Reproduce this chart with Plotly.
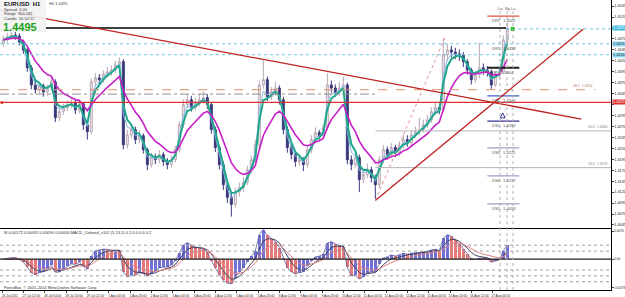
import plotly.graph_objects as go
import pandas as pd

# ---------------- data (3-hour aggregated EURUSD candles) ----------------
closes = [1.4468, 1.4475, 1.4479, 1.4477, 1.4463, 1.4445, 1.4404, 1.4365, 1.4354, 1.4363,
          1.4349, 1.4358, 1.4372, 1.4290, 1.4304, 1.4313, 1.4320, 1.4324, 1.4308, 1.4322,
          1.4274, 1.4258, 1.4372, 1.4381, 1.4377, 1.4390, 1.4395, 1.4399, 1.4411, 1.4418,
          1.4228, 1.4251, 1.4263, 1.4240, 1.4249, 1.4217, 1.4183, 1.4199, 1.4194, 1.4206,
          1.4190, 1.4183, 1.4194, 1.4217, 1.4274, 1.4320, 1.4331, 1.4313, 1.4324, 1.4331,
          1.4336, 1.4320, 1.4263, 1.4222, 1.4183, 1.4137, 1.4108, 1.4092, 1.4121, 1.4130,
          1.4142, 1.4171, 1.4194, 1.4228, 1.4365, 1.4377, 1.4338, 1.4349, 1.4358, 1.4331,
          1.4263, 1.4222, 1.4206, 1.4190, 1.4194, 1.4183, 1.4217, 1.4240, 1.4256, 1.4249,
          1.4267, 1.4365, 1.4358, 1.4347, 1.4358, 1.4365, 1.4194, 1.4183, 1.4199, 1.4149,
          1.4160, 1.4171, 1.4153, 1.4137, 1.4194, 1.4217, 1.4206, 1.4222, 1.4210, 1.4226,
          1.4240, 1.4233, 1.4251, 1.4258, 1.4263, 1.4274, 1.4285, 1.4304, 1.4313, 1.4308,
          1.4434, 1.4445, 1.4440, 1.4436, 1.4434, 1.4418, 1.4399, 1.4377, 1.4388, 1.4404,
          1.4399, 1.4395, 1.4365, 1.4386, 1.4395, 1.4468, 1.4495]
highs = [1.4478, 1.4484, 1.4490, 1.4492, 1.4483, 1.4468, 1.4450, 1.4410, 1.4376, 1.4372,
         1.4368, 1.4366, 1.4385, 1.4378, 1.4312, 1.4322, 1.4330, 1.4336, 1.4330, 1.4332,
         1.4326, 1.4282, 1.4380, 1.4392, 1.4390, 1.4398, 1.4406, 1.4410, 1.4420, 1.4428,
         1.4424, 1.4262, 1.4278, 1.4270, 1.4262, 1.4254, 1.4222, 1.4210, 1.4208, 1.4216,
         1.4212, 1.4198, 1.4204, 1.4226, 1.4282, 1.4332, 1.4344, 1.4340, 1.4336, 1.4345,
         1.4350, 1.4344, 1.4326, 1.4270, 1.4228, 1.4190, 1.4144, 1.4118, 1.4130, 1.4142,
         1.4155, 1.4180, 1.4204, 1.4240, 1.4375, 1.4422, 1.4384, 1.4360, 1.4372, 1.4364,
         1.4338, 1.4270, 1.4230, 1.4214, 1.4206, 1.4200, 1.4226, 1.4250, 1.4268, 1.4262,
         1.4276, 1.4392, 1.4375, 1.4366, 1.4372, 1.4384, 1.4370, 1.4204, 1.4210, 1.4206,
         1.4172, 1.4186, 1.4178, 1.4160, 1.4202, 1.4228, 1.4224, 1.4232, 1.4228, 1.4236,
         1.4252, 1.4250, 1.4262, 1.4270, 1.4290, 1.4286, 1.4296, 1.4314, 1.4326, 1.4322,
         1.4472, 1.4460, 1.4454, 1.4450, 1.4446, 1.4440, 1.4424, 1.4404, 1.4398, 1.4461,
         1.4414, 1.4408, 1.4400, 1.4396, 1.4406, 1.4478, 1.4508]
lows = [1.4452, 1.4462, 1.4470, 1.4468, 1.4455, 1.4436, 1.4395, 1.4355, 1.4345, 1.4346,
        1.4338, 1.4340, 1.4352, 1.4280, 1.4282, 1.4296, 1.4305, 1.4312, 1.4298, 1.4300,
        1.4262, 1.4240, 1.4252, 1.4362, 1.4366, 1.4370, 1.4382, 1.4386, 1.4392, 1.4404,
        1.4218, 1.4220, 1.4244, 1.4230, 1.4232, 1.4208, 1.4170, 1.4176, 1.4184, 1.4186,
        1.4180, 1.4172, 1.4176, 1.4188, 1.4210, 1.4266, 1.4312, 1.4304, 1.4306, 1.4316,
        1.4322, 1.4310, 1.4254, 1.4212, 1.4172, 1.4125, 1.4095, 1.4064, 1.4085, 1.4110,
        1.4120, 1.4136, 1.4162, 1.4186, 1.4222, 1.4356, 1.4328, 1.4330, 1.4340, 1.4320,
        1.4252, 1.4210, 1.4195, 1.4178, 1.4180, 1.4168, 1.4176, 1.4208, 1.4232, 1.4240,
        1.4240, 1.4260, 1.4348, 1.4338, 1.4340, 1.4350, 1.4184, 1.4170, 1.4176, 1.4120,
        1.4140, 1.4152, 1.4142, 1.4104, 1.4130, 1.4186, 1.4196, 1.4198, 1.4200, 1.4202,
        1.4218, 1.4224, 1.4226, 1.4244, 1.4250, 1.4256, 1.4266, 1.4278, 1.4296, 1.4298,
        1.4302, 1.4420, 1.4428, 1.4424, 1.4420, 1.4406, 1.4388, 1.4366, 1.4370, 1.4380,
        1.4388, 1.4384, 1.4356, 1.4360, 1.4378, 1.4390, 1.4460]
first_open = 1.4460
opens = [first_open] + closes[:-1]
hours_per_candle = 3
bar_x = [hours_per_candle * k + 1 for k in range(len(closes))]

tick_bars = list(range(0, 369, 16))
tick_text = ["26 Jul 2011", "27 Jul 12:00", "28 Jul 04:00", "28 Jul 20:00", "29 Jul 12:00",
             "1 Aug 04:00", "1 Aug 20:00", "2 Aug 12:00", "3 Aug 04:00", "3 Aug 20:00",
             "4 Aug 12:00", "5 Aug 04:00", "5 Aug 20:00", "8 Aug 12:00", "9 Aug 04:00",
             "9 Aug 20:00", "10 Aug 12:00", "11 Aug 04:00", "11 Aug 20:00", "12 Aug 12:00",
             "15 Aug 04:00", "15 Aug 20:00", "16 Aug 12:00", "17 Aug 04:00"]
price_ticks = [round(1.4045 + 0.0025 * i, 4) for i in range(21)]

# drawn objects (bar index, price)
down_trend_bars = [-1.5, 434.5]
down_trend_prices = [1.4536, 1.4287]
up_trend_bars = [280, 436]
up_trend_prices = [1.4101, 1.4493]
fib_diag_bars = [280, 332]
fib_diag_prices = [1.4101, 1.4472]
current_price = 1.4495
cyan_levels = [1.4459, 1.4434]
orange_level = 1.4354
grey_dash_level = 1.4344
red_level = 1.4325
fib_levels = [1.4260, 1.4176]
fib_labels = ["50.0  1.4260", "23.6  1.4176"]
pivot_names = ["DR2", "DR1", "DP", "DS1", "DS2", "DS3", "DS4", "DS5"]
pivot_prices = [1.4522, 1.4458, 1.4404, 1.4340, 1.4282, 1.4221, 1.4157, 1.4093]
pivot_colors = ["#e05040", "#c0c0d0", "#202020", "#4060c0", "#303090", "#a0a0c8", "#a0a0c8", "#a0a0c8"]
arrow_bar, arrow_price = 375.5, 1.4301
session_bars = [373.5, 378.75, 383.25]
session_names = ["Lo", "Ny", "Lu"]

# ---------------- indicators ----------------
s = pd.Series(closes)
ma_fast = s.ewm(span=2.2, adjust=False).mean()
ma_mid = s.ewm(span=3, adjust=False).mean()
ma_slow = s.ewm(span=9, adjust=False).mean()
macd = s.ewm(span=3, adjust=False).mean() - s.ewm(span=8, adjust=False).mean()
sig1 = macd.ewm(span=4, adjust=False).mean()
sig2 = macd.ewm(span=8, adjust=False).mean()
hist_colors = ["#7070d8" if (i > 0 and macd[i] >= macd[i - 1]) else "#e87878" for i in range(len(macd))]
M = float(macd.abs().max())

W, H = 625, 297
MT, MB = 0, 7
PH = H - MT - MB
XR = 611 / W
def px(x):
    return x / W
def py(y):
    return 1 - (y - MT) / PH

fig = go.Figure()
X_RANGE = [-1.5, 456.75]

fig.add_trace(go.Candlestick(x=bar_x, open=opens, high=highs, low=lows, close=closes,
                             increasing=dict(line=dict(color="#b8a8b4", width=1), fillcolor="#f4eef2"),
                             decreasing=dict(line=dict(color="#3a3a7c", width=1), fillcolor="#3a3a7c"),
                             whiskerwidth=0, xaxis="x", yaxis="y", showlegend=False, hoverinfo="skip"))
fig.add_trace(go.Scatter(x=bar_x, y=ma_fast, mode="lines", line=dict(color="#8ab8e8", width=1), xaxis="x", yaxis="y", showlegend=False))
fig.add_trace(go.Scatter(x=bar_x, y=ma_mid, mode="lines", line=dict(color="#20a88c", width=2), xaxis="x", yaxis="y", showlegend=False))
fig.add_trace(go.Scatter(x=bar_x, y=ma_slow, mode="lines", line=dict(color="#c81ec8", width=1.6), xaxis="x", yaxis="y", showlegend=False))

def hline(x0, x1, yv, color, width=1, dash="solid"):
    fig.add_trace(go.Scatter(x=[x0, x1], y=[yv, yv], mode="lines", line=dict(color=color, width=width, dash=dash),
                             xaxis="x", yaxis="y", showlegend=False, hoverinfo="skip"))

for lv in cyan_levels:
    hline(X_RANGE[0], X_RANGE[1], lv, "#70c8e0", 1, "dot")
hline(32, 378, current_price, "#000000", 1.3)
hline(378, X_RANGE[1], current_price - 0.0002, "#70c8e0", 1, "dot")
hline(X_RANGE[0], 445, orange_level, "#e09070", 1, "dash")
hline(X_RANGE[0], 280, grey_dash_level, "#909090", 1, "dashdot")
hline(X_RANGE[0], X_RANGE[1], red_level, "#e03030", 1.2)
for lv in fib_levels:
    hline(280, X_RANGE[1], lv, "#b8b8b8", 1)
for name, pv, col in zip(pivot_names, pivot_prices, pivot_colors):
    if name != "DR1":
        hline(364, 388, pv, col, 2 if name == "DP" else 1.2)

fig.add_trace(go.Scatter(x=down_trend_bars, y=down_trend_prices, mode="lines", line=dict(color="#c02020", width=1.3), xaxis="x", yaxis="y", showlegend=False))
fig.add_trace(go.Scatter(x=up_trend_bars, y=up_trend_prices, mode="lines", line=dict(color="#c02020", width=1.3), xaxis="x", yaxis="y", showlegend=False))
fig.add_trace(go.Scatter(x=fib_diag_bars, y=fib_diag_prices, mode="lines", line=dict(color="#e09090", width=1, dash="dot"), xaxis="x", yaxis="y", showlegend=False))
fig.add_trace(go.Scatter(x=[383], y=[current_price - 0.0002], mode="markers", marker=dict(color="#30c030", size=4, symbol="square"), xaxis="x", yaxis="y", showlegend=False))
fig.add_trace(go.Scatter(x=[0], y=[red_level], mode="markers", marker=dict(color="#e03030", size=3), xaxis="x", yaxis="y", showlegend=False))
fig.add_trace(go.Scatter(x=[arrow_bar], y=[arrow_price], mode="markers", marker=dict(color="rgba(0,0,0,0)", size=5, symbol="arrow-up", line=dict(color="#303090", width=1)),
                         xaxis="x", yaxis="y", showlegend=False))

# oscillator
fig.add_trace(go.Bar(x=bar_x, y=macd, marker=dict(color=hist_colors, line=dict(width=0)), width=2.0, xaxis="x2", yaxis="y2", showlegend=False, hoverinfo="skip"))
fig.add_trace(go.Scatter(x=bar_x, y=macd, mode="lines", line=dict(color="#6060a0", width=0.8), xaxis="x2", yaxis="y2", showlegend=False))
fig.add_trace(go.Scatter(x=bar_x, y=sig1, mode="lines", line=dict(color="#404060", width=1), xaxis="x2", yaxis="y2", showlegend=False))
fig.add_trace(go.Scatter(x=bar_x, y=sig2, mode="lines", line=dict(color="#e08080", width=1), xaxis="x2", yaxis="y2", showlegend=False))
fig.add_trace(go.Scatter(x=X_RANGE, y=[0, 0], mode="lines", line=dict(color="#202020", width=1.2), xaxis="x2", yaxis="y2", showlegend=False))
osc_levels = [0.47 * M, 0.27 * M, -0.37 * M, -0.57 * M, -0.77 * M]
for lv in osc_levels:
    fig.add_trace(go.Scatter(x=X_RANGE, y=[lv, lv], mode="lines", line=dict(color="#a0a0a0", width=1, dash="dot"), xaxis="x2", yaxis="y2", showlegend=False))

shapes = []
for sb in session_bars:
    shapes.append(dict(type="line", xref="x", yref="paper", x0=sb, x1=sb, y0=0, y1=py(8), line=dict(color="#b0b0b0", width=1, dash="dot")))
# info box
shapes.append(dict(type="rect", xref="paper", yref="paper", x0=px(0), x1=px(46), y0=py(0), y1=py(32), fillcolor="#f2f2f2", line=dict(width=0), layer="above", opacity=0.92))

ann = []
F = "Liberation Sans"
def txt(x, y, t, size=4.5, color="#202020", bold=False, xa="left"):
    ann.append(dict(xref="paper", yref="paper", x=px(x), y=py(y), text=("<b>%s</b>" % t) if bold else t, showarrow=False,
                    xanchor=xa, yanchor="middle", font=dict(family=F, size=size, color=color), borderpad=0))
txt(3, 4, "EURUSD  H1", 6, "#101010", True)
txt(3, 9.5, "Spread  3.00", 4, "#404040")
txt(3, 14, "Range  300.181", 4, "#404040")
txt(3, 18.5, "Candle  00:52:11", 4, "#404040")
txt(2, 26.5, "1.4495", 11, "#20a020", True)
txt(48, 3, "H0 1.4495", 4, "#404040")
txt(3, 232, "M 0.00172 0.00092 0.00090 0.00000 MACD_Colored_v102 (5,13,1) 0.2 0.0 0.0 0.2", 4, "#303030")
txt(3, 287, "ForexBox, © 2001-2014 MetaQuotes Software Corp.", 4, "#303030")
for sb, nm in zip(session_bars, session_names):
    ann.append(dict(xref="x", yref="paper", x=sb, y=py(4), text=nm, showarrow=False, font=dict(family=F, size=4, color="#505050")))
for name, pv in zip(pivot_names, pivot_prices):
    ann.append(dict(xref="x", yref="y", x=366, y=pv, text="%s   %.4f" % (name, pv), showarrow=False, xanchor="left", yanchor="top",
                    font=dict(family=F, size=4, color="#505050")))
for lab, lv in zip(fib_labels, fib_levels):
    ann.append(dict(xref="paper", yref="y", x=px(610), y=lv, text=lab, showarrow=False, xanchor="right", yanchor="bottom", font=dict(family=F, size=3.5, color="#808080")))
ann.append(dict(xref="paper", yref="y", x=px(595), y=orange_level, text="38.2  %.4f" % orange_level, showarrow=False, xanchor="right", yanchor="bottom", font=dict(family=F, size=3.5, color="#c08070")))
# price tags on right axis
tag_prices = [current_price] + cyan_levels + [red_level]
def tag(pv, bg, fg):
    ann.append(dict(xref="paper", yref="y", x=px(612), y=pv, text="%.4f" % pv, showarrow=False, xanchor="left", bgcolor=bg,
                    font=dict(family=F, size=3.8, color=fg), borderpad=0))
tag(current_price, "#40b8e0", "#ffffff")
for lv in cyan_levels:
    tag(lv, "#90d8f0", "#204050")
tag(red_level, "#e03030", "#ffffff")
# tick labels hidden behind price tags
price_tick_text = ["" if any(abs(v - t) < 0.0009 for t in tag_prices) else "%.4f" % v for v in price_ticks]

fig.update_layout(
    width=W, height=H, margin=dict(l=0, r=0, t=MT, b=MB, autoexpand=False),
    paper_bgcolor="#ffffff", plot_bgcolor="#ffffff", showlegend=False, bargap=0,
    xaxis=dict(domain=[0, XR], range=X_RANGE, showticklabels=False, showgrid=False, zeroline=False, rangeslider=dict(visible=False),
               showline=True, mirror=True, linecolor="#000000", linewidth=1, anchor="y", automargin=False),
    yaxis=dict(domain=[py(228), 1], range=[1.4038, 1.4559], side="right", tickvals=price_ticks, ticktext=price_tick_text,
               tickfont=dict(family=F, size=3.8, color="#202020"), ticks="outside", ticklen=1.5, showgrid=False, zeroline=False,
               showline=True, mirror=True, linecolor="#000000", linewidth=1, anchor="x", automargin=False, ticklabelstandoff=0),
    xaxis2=dict(domain=[0, XR], range=X_RANGE, matches="x", tickvals=tick_bars, ticktext=tick_text, tickangle=0,
                tickfont=dict(family=F, size=3.2, color="#202020"),
                ticks="outside", ticklen=2, showgrid=False, zeroline=False, showline=True, mirror=True, linecolor="#000000", linewidth=1,
                anchor="y2", ticklabelshift=8, ticklabelstandoff=0, automargin=False),
    yaxis2=dict(domain=[0, py(229)], range=[-1.05 * M, 1.02 * M], side="right", tickvals=[M * 0.95, 0, -M * 0.98],
                ticktext=["%.4f" % (M * 0.95), "0.00", "-%.4f" % (M * 0.98)], tickfont=dict(family=F, size=3.2, color="#202020"),
                ticks="outside", ticklen=1.5, showgrid=False, zeroline=False, showline=True, mirror=True, linecolor="#000000", linewidth=1,
                anchor="x2", automargin=False, ticklabelstandoff=0),
    shapes=shapes, annotations=ann,
)
fig.write_html("out.html")
